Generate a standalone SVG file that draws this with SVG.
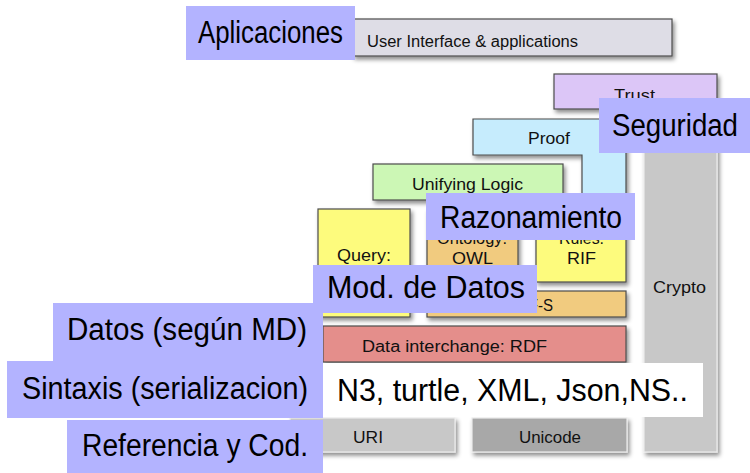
<svg xmlns="http://www.w3.org/2000/svg" width="750" height="473" viewBox="0 0 750 473">
<defs>
<filter id="sh" x="-10%" y="-10%" width="130%" height="140%">
<feDropShadow dx="2" dy="3" stdDeviation="2" flood-color="#000" flood-opacity="0.45"/>
</filter>
<style>
.box{stroke:#4d4d4d;stroke-width:1.2;filter:url(#sh)}
.gbox{stroke:#ececec;stroke-width:1.2;filter:url(#sh)}
.lbl{fill:#b3b3ff}
.big{font-family:"Liberation Sans",Arial,sans-serif;font-size:31px;fill:#000}
.sm{font-family:"Liberation Sans",Arial,sans-serif;font-size:16px;fill:#111}
</style>
</defs>
<rect width="750" height="473" fill="#fff"/>

<g id="ui"><rect class="box" x="353" y="19" width="319" height="37" fill="#dedde6"/>
<text class="sm" x="367" y="47" textLength="211" lengthAdjust="spacingAndGlyphs">User Interface &amp; applications</text></g>

<g id="crypto"><rect class="gbox" x="644" y="119" width="73" height="333" fill="#c8c8c8"/>
<text class="sm" x="653" y="293" textLength="53" lengthAdjust="spacingAndGlyphs">Crypto</text></g>

<g id="trust"><rect class="box" x="554" y="74" width="163" height="35" fill="#dcc6f7"/>
<text class="sm" x="614" y="101" textLength="41" lengthAdjust="spacingAndGlyphs">Trust</text></g>

<g id="proof"><path class="box" d="M473,119 H626 V215 H582 V155 H473 Z" fill="#c6ecfd"/>
<text class="sm" x="528" y="144" textLength="42" lengthAdjust="spacingAndGlyphs">Proof</text></g>

<g id="logic"><rect class="box" x="373" y="164" width="190" height="36" fill="#ccf7b5"/>
<text class="sm" x="412" y="190" textLength="111" lengthAdjust="spacingAndGlyphs">Unifying Logic</text></g>

<g id="query"><rect class="box" x="318" y="209" width="92" height="108" fill="#fdfb7d"/>
<text class="sm" x="337" y="261" textLength="54" lengthAdjust="spacingAndGlyphs">Query:</text></g>

<g id="owl"><rect class="box" x="427" y="209" width="91" height="73" fill="#f1cb7f"/>
<text class="sm" x="437" y="244" textLength="70" lengthAdjust="spacingAndGlyphs">Ontology:</text>
<text class="sm" x="452" y="264" textLength="41" lengthAdjust="spacingAndGlyphs">OWL</text></g>

<g id="rif"><rect class="box" x="536" y="215" width="90" height="67" fill="#fdfb7d"/>
<text class="sm" x="559" y="244" textLength="45" lengthAdjust="spacingAndGlyphs">Rules:</text>
<text class="sm" x="567" y="264" textLength="29" lengthAdjust="spacingAndGlyphs">RIF</text></g>

<g id="rdfs"><rect class="box" x="427" y="291" width="199" height="26" fill="#f1cb7f"/>
<text class="sm" x="507" y="311" textLength="46" lengthAdjust="spacingAndGlyphs">RDF-S</text></g>

<g id="rdf"><rect class="box" x="323" y="326" width="303" height="36" fill="#e48e8b"/>
<text class="sm" x="362" y="352" textLength="185" lengthAdjust="spacingAndGlyphs">Data interchange: RDF</text></g>

<g id="uri"><rect class="gbox" x="290" y="418" width="165" height="34" fill="#c8c8c8"/>
<text class="sm" x="353" y="443" textLength="30" lengthAdjust="spacingAndGlyphs">URI</text></g>

<g id="unicode"><rect class="gbox" x="472" y="418" width="155" height="34" fill="#a8a8a8"/>
<text class="sm" x="519" y="443" textLength="62" lengthAdjust="spacingAndGlyphs">Unicode</text></g>

<g id="syntax-values"><rect x="323" y="363" width="380" height="54" fill="#fff"/>
<text class="big" x="337" y="401" textLength="351" lengthAdjust="spacingAndGlyphs">N3, turtle, XML, Json,NS..</text></g>

<g id="lbl-aplicaciones"><rect class="lbl" x="186" y="6" width="169" height="54"/>
<text class="big" x="198" y="43" textLength="145" lengthAdjust="spacingAndGlyphs">Aplicaciones</text></g>

<g id="lbl-seguridad"><rect class="lbl" x="599" y="98" width="151" height="55"/>
<text class="big" x="612" y="136" textLength="126" lengthAdjust="spacingAndGlyphs">Seguridad</text></g>

<g id="lbl-razonamiento"><rect class="lbl" x="426" y="193" width="209" height="47"/>
<text class="big" x="440" y="228" textLength="182" lengthAdjust="spacingAndGlyphs">Razonamiento</text></g>

<g id="lbl-modelo"><rect class="lbl" x="313" y="265" width="224" height="48"/>
<text class="big" x="327" y="298" textLength="198" lengthAdjust="spacingAndGlyphs">Mod. de Datos</text></g>

<g id="lbl-datos"><rect class="lbl" x="53" y="303" width="270" height="58"/>
<text class="big" x="67" y="340" textLength="240" lengthAdjust="spacingAndGlyphs">Datos (según MD)</text></g>

<g id="lbl-sintaxis"><rect class="lbl" x="7" y="361" width="316" height="57"/>
<text class="big" x="22" y="399" textLength="286" lengthAdjust="spacingAndGlyphs">Sintaxis (serializacion)</text></g>

<g id="lbl-referencia"><rect class="lbl" x="67" y="420" width="256" height="53"/>
<text class="big" x="82" y="456" textLength="226" lengthAdjust="spacingAndGlyphs">Referencia y Cod.</text></g>
</svg>
